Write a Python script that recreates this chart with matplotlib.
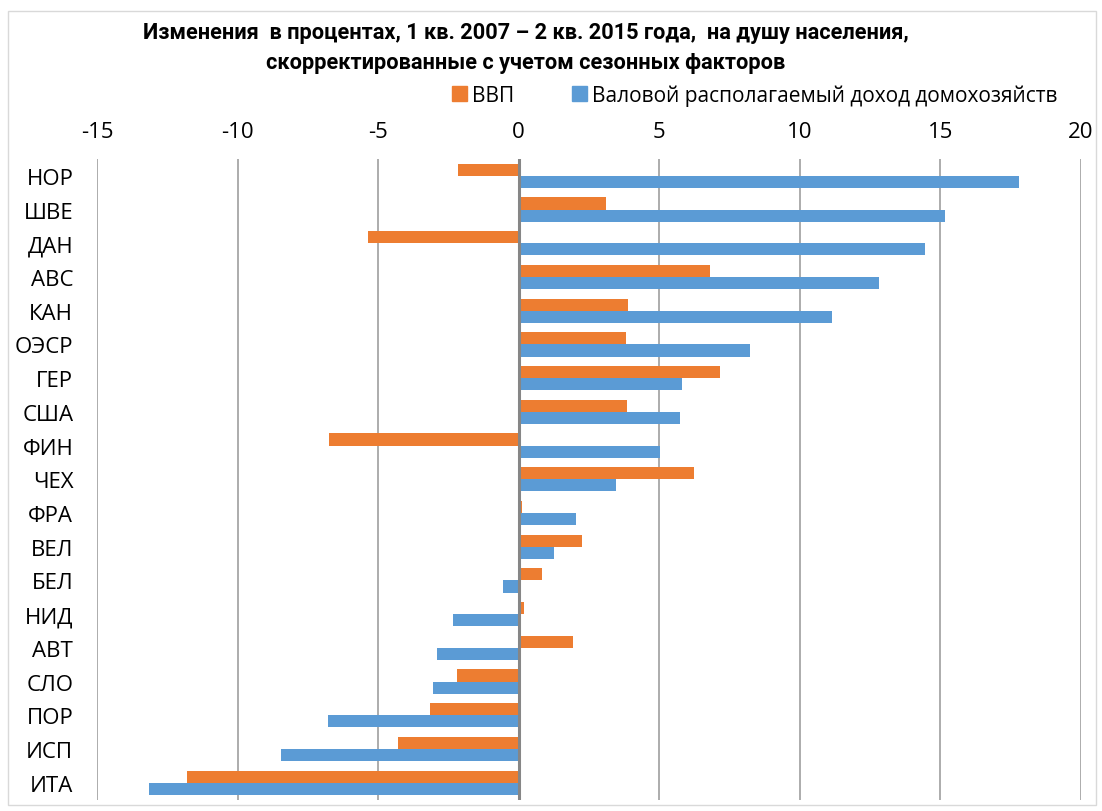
import numpy as np
import matplotlib
matplotlib.use("Agg")
import matplotlib.pyplot as plt
from matplotlib.patches import Rectangle, Patch

plt.rcParams['font.family'] = ['Open Sans', 'DejaVu Sans']

# data (top to bottom)
countries = ['НОР', 'ШВЕ', 'ДАН', 'АВС', 'КАН', 'ОЭСР', 'ГЕР', 'США', 'ФИН', 'ЧЕХ',
             'ФРА', 'ВЕЛ', 'БЕЛ', 'НИД', 'АВТ', 'СЛО', 'ПОР', 'ИСП', 'ИТА']
gdp = [-2.15, 3.1, -5.35, 6.8, 3.88, 3.8, 7.16, 3.84, -6.75, 6.25,
       0.1, 2.24, 0.82, 0.2, 1.92, -2.2, -3.17, -4.3, -11.8]
income = [17.8, 15.15, 14.45, 12.8, 11.15, 8.22, 5.82, 5.73, 5.02, 3.45,
          2.05, 1.25, -0.57, -2.35, -2.92, -3.06, -6.8, -8.47, -13.15]
xticks = [-15, -10, -5, 0, 5, 10, 15, 20]

orange = '#ED7D31'
blue = '#5B9BD5'

fig = plt.figure(figsize=(11.02, 8.12), dpi=100)
ax = fig.add_axes([0.088, 0.014, 0.893, 0.789])

n = len(countries)
y = np.arange(n)
h = 0.36
ax.barh(y - h / 2, gdp, height=h, color=orange, label='ВВП', zorder=3)
ax.barh(y + h / 2, income, height=h, color=blue,
        label='Валовой располагаемый доход домохозяйств', zorder=3)

ax.set_xlim(-15, 20)
ax.set_ylim(n - 0.5, -0.5)
ax.set_xticks(xticks)
ax.set_xticklabels([str(t) for t in xticks])
ax.xaxis.tick_top()
ax.tick_params(axis='x', length=0, labelsize=16, pad=12)
for t in xticks:
    if t == 0:
        continue
    ax.axvline(t, color='#a6a6a6', lw=1.3, zorder=1)
ax.axvline(0, color='#868686', lw=2.2, zorder=4)

ax.set_yticks(y)
ax.set_yticklabels(countries)
ax.tick_params(axis='y', length=0, labelsize=16, pad=17)
for s in ax.spines.values():
    s.set_visible(False)

fig.text(0.477, 0.973, 'Изменения  в процентах, 1 кв. 2007 – 2 кв. 2015 года,  на душу населения,\n'
         'скорректированные с учетом сезонных факторов',
         ha='center', va='top', fontsize=15.7, fontweight='bold', linespacing=1.45,
         family=['Roboto', 'DejaVu Sans'])

handles = [Patch(color=orange), Patch(color=blue)]
fig.legend(handles, ['ВВП', 'Валовой располагаемый доход домохозяйств'],
           loc='center', bbox_to_anchor=(0.685, 0.882), ncol=2, frameon=False,
           fontsize=15, handlelength=0.7, handleheight=0.7, handletextpad=0.25,
           columnspacing=2.8)

fig.patches.append(Rectangle((0.007, 0.007), 0.988, 0.978, transform=fig.transFigure,
                             fill=False, edgecolor='#d9d9d9', lw=1))

fig.savefig('out.png', dpi=100)
